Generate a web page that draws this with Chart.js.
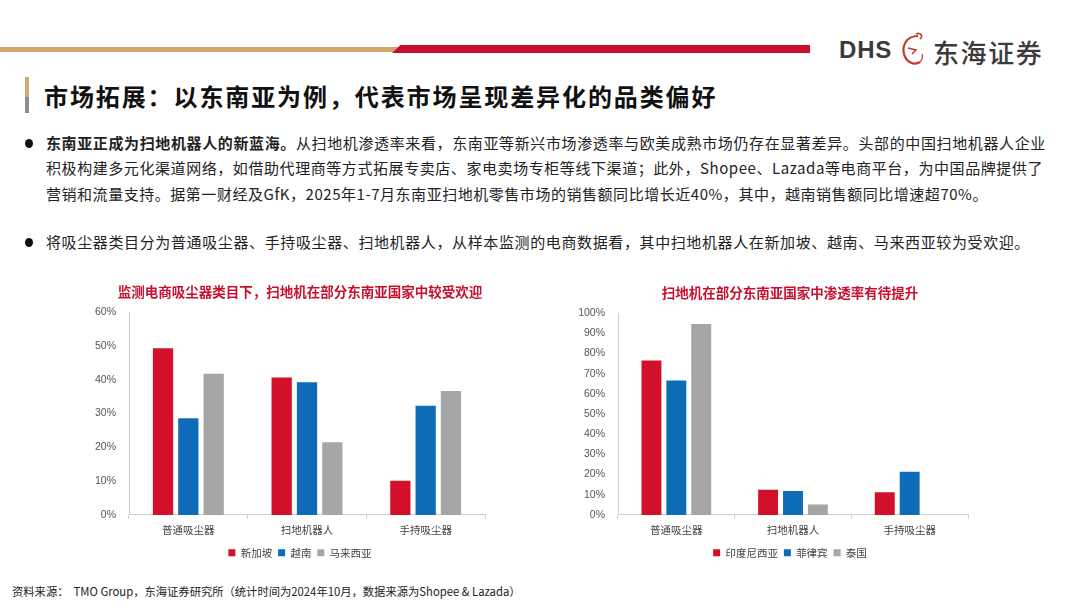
<!DOCTYPE html>
<html><head><meta charset="utf-8">
<script src="https://cdn.jsdelivr.net/npm/chart.js@4/dist/chart.umd.min.js"></script>
<style>
html,body{margin:0;padding:0;background:#fff;width:1080px;height:608px;overflow:hidden;font-family:"Liberation Sans","Noto Sans CJK SC",sans-serif;}
.abs{position:absolute;}
#tan{left:0;top:47px;width:398px;height:5px;background:#d2a86e;}
#red{left:392px;top:45px;width:418px;height:8px;background:#c8102e;clip-path:polygon(2% 0,100% 0,100% 100%,0 100%);}
#dhs{left:839px;top:36px;font:bold 24px "Liberation Sans",sans-serif;color:#3b3b3b;letter-spacing:0.8px;}
#dhcn{left:933px;top:33px;font:500 26px "Noto Sans CJK SC";color:#3b3b3b;letter-spacing:1.6px;}
#bar{left:25px;top:77px;width:4px;height:36px;background:linear-gradient(#d2a86e 0,#d2a86e 55%,#8c8c8c 55%,#8c8c8c 100%);}
#title{left:44px;top:78px;font:bold 24px "Noto Sans CJK SC";color:#111;letter-spacing:1.9px;white-space:nowrap;}
.ln{position:absolute;left:46px;font-size:15px;color:#222;white-space:nowrap;font-family:"Noto Sans CJK SC";}
.dot{position:absolute;left:25px;width:8px;height:9px;border-radius:50%;background:#111;}
#foot{left:12px;top:583px;font-size:11.3px;color:#222;white-space:nowrap;font-family:"Noto Sans CJK SC";}
</style></head><body>
<div id="tan" class="abs"></div><div id="red" class="abs"></div>
<div id="dhs" class="abs">DHS</div>
<svg class="abs" style="left:898px;top:30px" width="30" height="40" viewBox="0 0 30 40">
<path d="M20 6 C8 6 4 16 6 24 C8 32 16 36 22 32" fill="none" stroke="#c0392b" stroke-width="2.2"/>
<path d="M18 4 C22 2 26 6 22 9" fill="none" stroke="#c0392b" stroke-width="1.6"/>
<path d="M10 18 L18 20 L14 24" fill="none" stroke="#c0392b" stroke-width="1.5"/>
<path d="M22 32 C24 30 25 27 24 24" fill="none" stroke="#c0392b" stroke-width="1.2"/>
</svg>
<div id="dhcn" class="abs">东海证券</div>
<div id="bar" class="abs"></div>
<div id="title" class="abs">市场拓展：以东南亚为例，代表市场呈现差异化的品类偏好</div>
<div class="dot" style="top:139px"></div>
<div class="ln" data-end="1046" style="top:132px"><b>东南亚正成为扫地机器人的新蓝海。</b>从扫地机渗透率来看，东南亚等新兴市场渗透率与欧美成熟市场仍存在显著差异。头部的中国扫地机器人企业</div>
<div class="ln" data-end="1043" style="top:157px">积极构建多元化渠道网络，如借助代理商等方式拓展专卖店、家电卖场专柜等线下渠道；此外，Shopee、Lazada等电商平台，为中国品牌提供了</div>
<div class="ln" data-end="988" style="top:183px">营销和流量支持。据第一财经及GfK，2025年1-7月东南亚扫地机零售市场的销售额同比增长近40%，其中，越南销售额同比增速超70%。</div>
<div class="dot" style="top:238px"></div>
<div class="ln" data-end="1030" style="top:231px">将吸尘器类目分为普通吸尘器、手持吸尘器、扫地机器人，从样本监测的电商数据看，其中扫地机器人在新加坡、越南、马来西亚较为受欢迎。</div>
<div class="abs" style="left:92px;top:281px;width:416px;height:287px"><canvas id="c1"></canvas></div>
<div class="abs" style="left:578px;top:282px;width:424px;height:286px"><canvas id="c2"></canvas></div>
<div id="foot" class="abs">资料来源：&nbsp; TMO Group，东海证券研究所（统计时间为2024年10月，数据来源为Shopee &amp; Lazada）</div>
<script>
const categories = ["普通吸尘器","扫地机器人","手持吸尘器"];
const leftTitle = "监测电商吸尘器类目下，扫地机在部分东南亚国家中较受欢迎";
const leftSeriesNames = ["新加坡","越南","马来西亚"];
const singapore = [49.3, 40.7, 10.1];
const vietnam = [28.6, 39.3, 32.3];
const malaysia = [41.8, 21.5, 36.7];
const leftTicks = [0,10,20,30,40,50,60];

const rightTitle = "扫地机在部分东南亚国家中渗透率有待提升";
const rightSeriesNames = ["印度尼西亚","菲律宾","泰国"];
const indonesia = [76.5, 12.5, 11.2];
const philippines = [66.6, 11.8, 21.4];
const thailand = [94.6, 5.1, null];
const rightTicks = [0,10,20,30,40,50,60,70,80,90,100];

const colors = ["#d3102a","#0e6bb8","#a6a6a6"];
const FONT = '"Liberation Sans","Noto Sans CJK SC",sans-serif';

// fit text lines to their measured right edges
document.querySelectorAll('.ln').forEach(el=>{
  const target = +el.dataset.end - 46;
  const n = [...el.textContent].length;
  const w = el.getBoundingClientRect().width;
  el.style.letterSpacing = ((target - w) / n) + 'px';
});

function makeChart(id, title, names, series, ticksArr, yWidth, rightSpace){
  return new Chart(document.getElementById(id), {
    type:'bar',
    data:{labels:categories, datasets:series.map((d,i)=>({label:names[i],data:d,backgroundColor:colors[i],
      categoryPercentage:0.64,barPercentage:0.8,yAxisID:'y'}))},
    options:{
      responsive:true,maintainAspectRatio:false,animation:false,
      layout:{padding:0},
      plugins:{
        title:{display:true,text:title,color:'#c8102e',font:{family:'"Noto Sans CJK SC"',size:13.5,weight:'bold'},padding:{top:3,bottom:12}},
        legend:{position:'bottom',labels:{usePointStyle:true,pointStyle:'rect',boxWidth:7,boxHeight:7,color:'#444',
          font:{family:'"Noto Sans CJK SC"',size:10.5},padding:6}},
        tooltip:{enabled:false}
      },
      scales:{
        x:{grid:{display:true,drawOnChartArea:false,drawTicks:true,tickLength:4,color:'#d0d0d0',offset:true},
           border:{color:'#d0d0d0'},
           ticks:{color:'#444',font:{family:'"Noto Sans CJK SC"',size:10.5},padding:5}},
        y:{min:0,max:ticksArr[ticksArr.length-1],
           afterBuildTicks:(ax)=>{ax.ticks=ticksArr.map(v=>({value:v}));},
           afterFit:(ax)=>{ax.width=yWidth;},
           grid:{display:false,drawOnChartArea:false},
           border:{color:'#d0d0d0'},
           ticks:{color:'#555',font:{family:FONT,size:10.5},padding:5,callback:v=>v+'%'}},
        spacer:{type:'linear',position:'right',display:true,
           afterFit:(ax)=>{ax.width=rightSpace;},
           grid:{display:false},border:{display:false},ticks:{display:false}}
      }
    }
  });
}
makeChart('c1', leftTitle, leftSeriesNames, [singapore,vietnam,malaysia], leftTicks, 37, 23);
makeChart('c2', rightTitle, rightSeriesNames, [indonesia,philippines,thailand], rightTicks, 40, 34);
</script>
</body></html>
